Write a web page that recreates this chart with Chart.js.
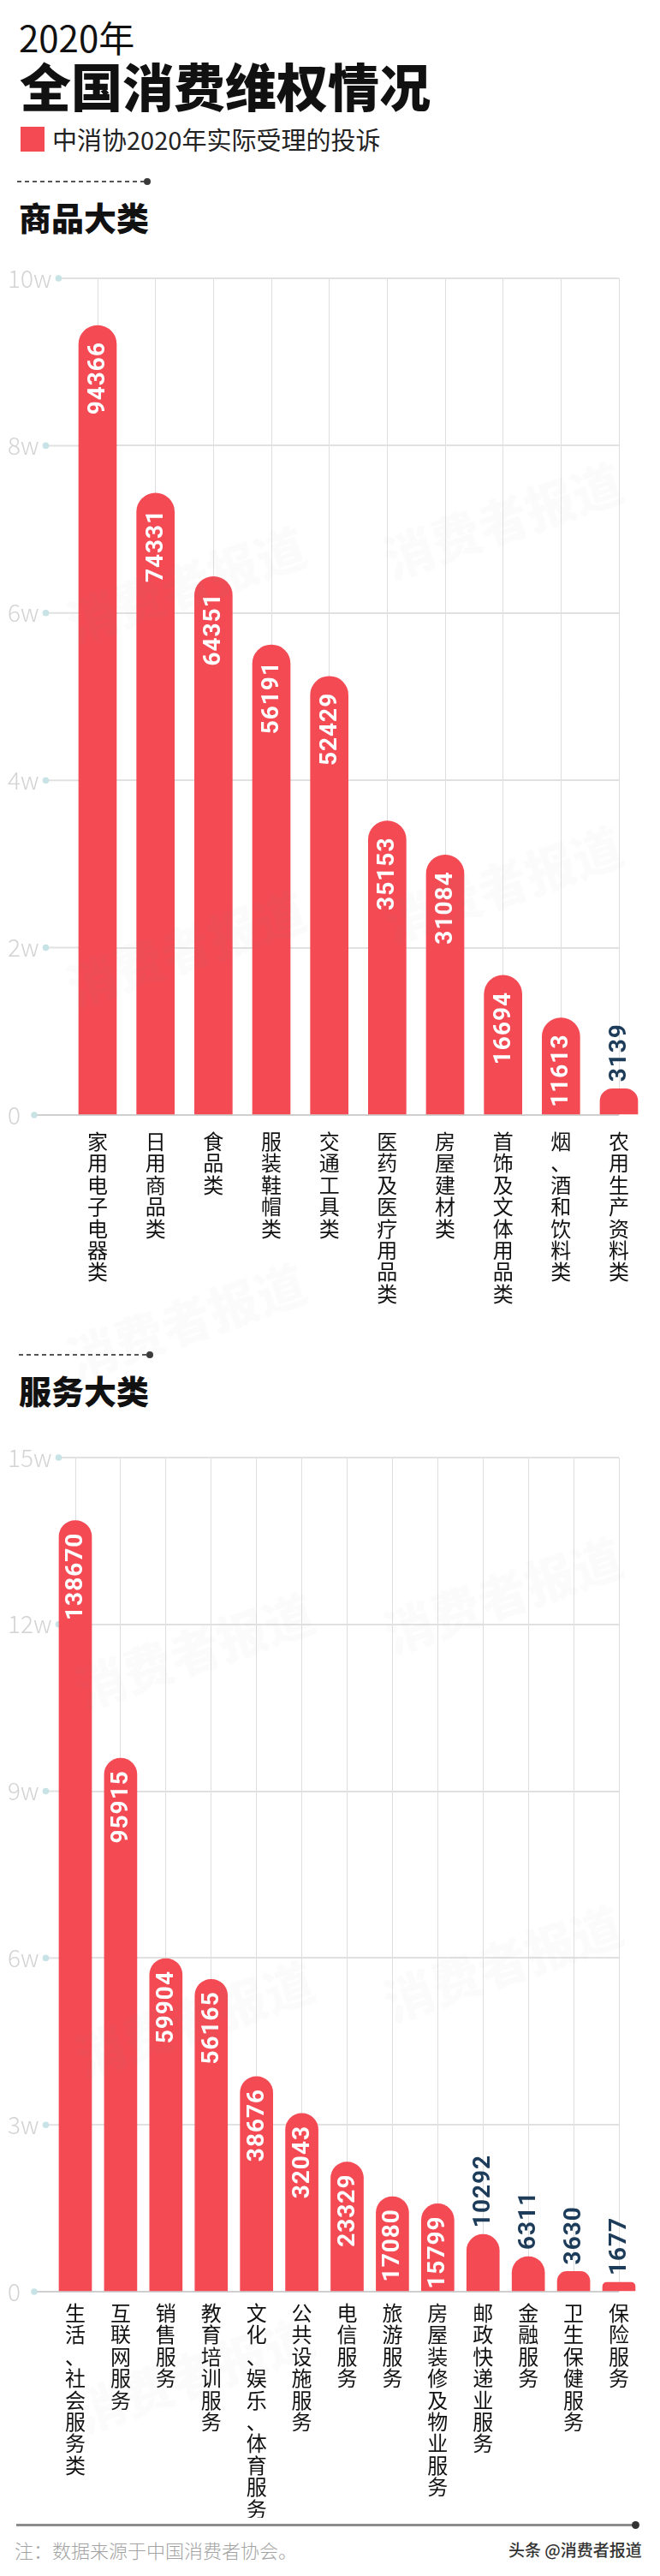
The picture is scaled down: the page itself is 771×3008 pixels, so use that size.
<!DOCTYPE html>
<html><head><meta charset="utf-8">
<script src="https://cdn.jsdelivr.net/npm/chart.js@4.4.1/dist/chart.umd.min.js"></script>
<style>
html,body{margin:0;padding:0;background:#fff;}
#page{position:relative;width:771px;height:3008px;overflow:hidden;font-family:"Noto Sans CJK SC",sans-serif;background:#fff;}
.t{position:absolute;white-space:nowrap;line-height:1;}
canvas{position:absolute;left:0;}
.dash{position:absolute;height:2px;background:repeating-linear-gradient(90deg,#555 0 5px,transparent 5px 9px);}
.dot{position:absolute;border-radius:50%;background:#3a3a3a;}
.wm{position:absolute;font-weight:900;font-size:58px;color:rgba(150,150,150,0.035);transform:rotate(-19deg);transform-origin:left top;white-space:nowrap;line-height:1;pointer-events:none;z-index:5;}
</style></head>
<body><div id="page">
<div class="t" style="left:22px;top:22px;font-size:42px;font-weight:400;color:#111;">2020年</div>
<div class="t" style="left:23px;top:69px;font-size:60px;font-weight:900;color:#111;">全国消费维权情况</div>
<div style="position:absolute;left:24px;top:148px;width:28px;height:29px;background:#f34a54;"></div>
<div class="t" style="left:61px;top:148px;font-size:29px;font-weight:400;color:#222;">中消协2020年实际受理的投诉</div>
<div class="dash" style="left:20px;top:211px;width:150px;"></div>
<div class="dot" style="left:168px;top:208px;width:8px;height:8px;"></div>
<div class="t" style="left:22px;top:234px;font-size:38px;font-weight:900;color:#111;">商品大类</div>

<canvas id="goods" width="771" height="1270" style="top:290px;"></canvas>

<div class="dash" style="left:22px;top:1581px;width:150px;"></div>
<div class="dot" style="left:171px;top:1578px;width:8px;height:8px;"></div>
<div class="t" style="left:22px;top:1604px;font-size:38px;font-weight:900;color:#111;">服务大类</div>

<canvas id="service" width="771" height="1270" style="top:1670px;"></canvas>

<div style="position:absolute;left:19px;top:2947px;width:723px;height:3px;background:#8c8c8c;"></div>
<div class="dot" style="left:738px;top:2944px;width:9px;height:9px;background:#333;"></div>
<div class="t" style="left:17px;top:2966px;font-size:22px;font-weight:300;color:#a3a3a3;">注：数据来源于中国消费者协会。</div>
<div class="t" style="left:594px;top:2967px;font-size:19px;font-weight:500;color:#333;">头条 @消费者报道</div>

<div class="wm" style="left:70px;top:700px;">消费者报道</div>
<div class="wm" style="left:440px;top:625px;">消费者报道</div>
<div class="wm" style="left:70px;top:1125px;">消费者报道</div>
<div class="wm" style="left:440px;top:1050px;">消费者报道</div>
<div class="wm" style="left:70px;top:1560px;">消费者报道</div>
<div class="wm" style="left:80px;top:1945px;">消费者报道</div>
<div class="wm" style="left:440px;top:1880px;">消费者报道</div>
<div class="wm" style="left:80px;top:2375px;">消费者报道</div>
<div class="wm" style="left:440px;top:2310px;">消费者报道</div>
<div class="wm" style="left:80px;top:2790px;">消费者报道</div>
</div>
<script>
// ---- data ----
const goodsCategories = ['家用电子电器类','日用商品类','食品类','服装鞋帽类','交通工具类','医药及医疗用品类','房屋建材类','首饰及文体用品类','烟、酒和饮料类','农用生产资料类'];
const goodsValues = [94366,74331,64351,56191,52429,35153,31084,16694,11613,3139];
const goodsAxisMax = 100000;
const goodsAxisStep = 20000;

const serviceCategories = ['生活、社会服务类','互联网服务','销售服务','教育培训服务','文化、娱乐、体育服务','公共设施服务','电信服务','旅游服务','房屋装修及物业服务','邮政快递业服务','金融服务','卫生保健服务','保险服务'];
const serviceValues = [138670,95915,59904,56165,38676,32043,23329,17080,15799,10292,6311,3630,1677];
const serviceAxisMax = 150000;
const serviceAxisStep = 30000;

const tickLabel = v => v === 0 ? '0' : (v / 10000) + 'w';

// ---- styles ----
const BAR = '#f34a54';
const GRID = '#e1e1e1';
const ZERO = '#cfcfcf';
const CJK = '"Noto Sans CJK SC", sans-serif';
const TICK_FONT = {family: CJK, size: 28, weight: 300};
const VALUE_FONT = '700 28px Roboto, "Noto Sans", sans-serif';

const deco = {
  id: 'deco',
  beforeDatasetsDraw(chart) {
    const y = chart.scales.y, ctx = chart.ctx, area = chart.chartArea;
    ctx.save();
    ctx.font = '300 28px ' + CJK;
    y.ticks.forEach(t => {
      const py = y.getPixelForValue(t.value);
      const w = ctx.measureText(t.label).width;
      const dx = y.left + w + (t.value === 0 ? 16 : 8);
      ctx.strokeStyle = t.value === 0 ? ZERO : GRID;
      ctx.lineWidth = 2;
      ctx.beginPath(); ctx.moveTo(dx + 3, py); ctx.lineTo(area.left, py); ctx.stroke();
      ctx.fillStyle = '#c8e3e6';
      ctx.beginPath(); ctx.arc(dx, py, 3.8, 0, Math.PI * 2); ctx.fill();
    });
    ctx.restore();
  },
  afterDatasetsDraw(chart, args, opts) {
    const ctx = chart.ctx;
    const meta = chart.getDatasetMeta(0);
    const data = chart.data.datasets[0].data;
    ctx.save();
    ctx.font = VALUE_FONT;
    try { ctx.letterSpacing = '1px'; } catch (e) {}
    meta.data.forEach((bar, i) => {
      const txt = String(data[i]);
      const w = ctx.measureText(txt).width;
      const h = bar.base - bar.y;
      ctx.save();
      if (h >= w + opts.inside - 4) {
        ctx.translate(bar.x, bar.y + opts.inside);
        ctx.rotate(-Math.PI / 2);
        ctx.textAlign = 'right';
        ctx.textBaseline = 'middle';
        ctx.fillStyle = '#ffffff';
      } else {
        ctx.translate(bar.x, bar.y - 8);
        ctx.rotate(-Math.PI / 2);
        ctx.textAlign = 'left';
        ctx.textBaseline = 'middle';
        ctx.fillStyle = '#1d3c5a';
      }
      ctx.fillText(txt, 0, 1);
      ctx.restore();
    });
    ctx.restore();
  }
};

function makeChart(id, cats, vals, max, step, cfg) {
  return new Chart(document.getElementById(id), {
    type: 'bar',
    data: {
      labels: cats.map(c => Array.from(c)),
      datasets: [{
        data: vals,
        backgroundColor: BAR,
        barThickness: cfg.barW,
        borderRadius: {topLeft: cfg.barW / 2, topRight: cfg.barW / 2, bottomLeft: 0, bottomRight: 0},
        borderSkipped: 'bottom',
        clip: false
      }]
    },
    options: {
      responsive: false,
      animation: false,
      devicePixelRatio: 1,
      layout: {padding: {left: 9, right: 48, top: cfg.top, bottom: 0}},
      plugins: {legend: {display: false}, tooltip: {enabled: false}, deco: {inside: cfg.inside}},
      scales: {
        x: {
          offset: false,
          grid: {offset: false, color: '#dedede', lineWidth: 1, drawTicks: false},
          border: {display: false},
          ticks: {
            autoSkip: false, maxRotation: 0, minRotation: 0,
            padding: cfg.labelPad, color: '#111',
            font: {family: CJK, size: 24, weight: 400, lineHeight: 1.06}
          },
          afterFit: s => { s.height = cfg.xh; }
        },
        y: {
          min: 0, max: max,
          grid: {color: c => c.tick && c.tick.value === 0 ? ZERO : GRID, lineWidth: 2, drawTicks: false},
          border: {display: false},
          ticks: {stepSize: step, callback: tickLabel, crossAlign: 'far', color: '#d3d3d3', font: TICK_FONT},
          afterFit: s => { s.width = cfg.yw; }
        }
      }
    },
    plugins: [deco]
  });
}

makeChart('goods', goodsCategories, goodsValues, goodsAxisMax, goodsAxisStep,
  {barW: 44, inside: 19, top: 35, yw: 105, xh: 1270 - 1012, labelPad: 18});
makeChart('service', serviceCategories, serviceValues, serviceAxisMax, serviceAxisStep,
  {barW: 38, inside: 14, top: 32, yw: 79, xh: 1270 - 1006, labelPad: 12});
</script>
</body></html>
